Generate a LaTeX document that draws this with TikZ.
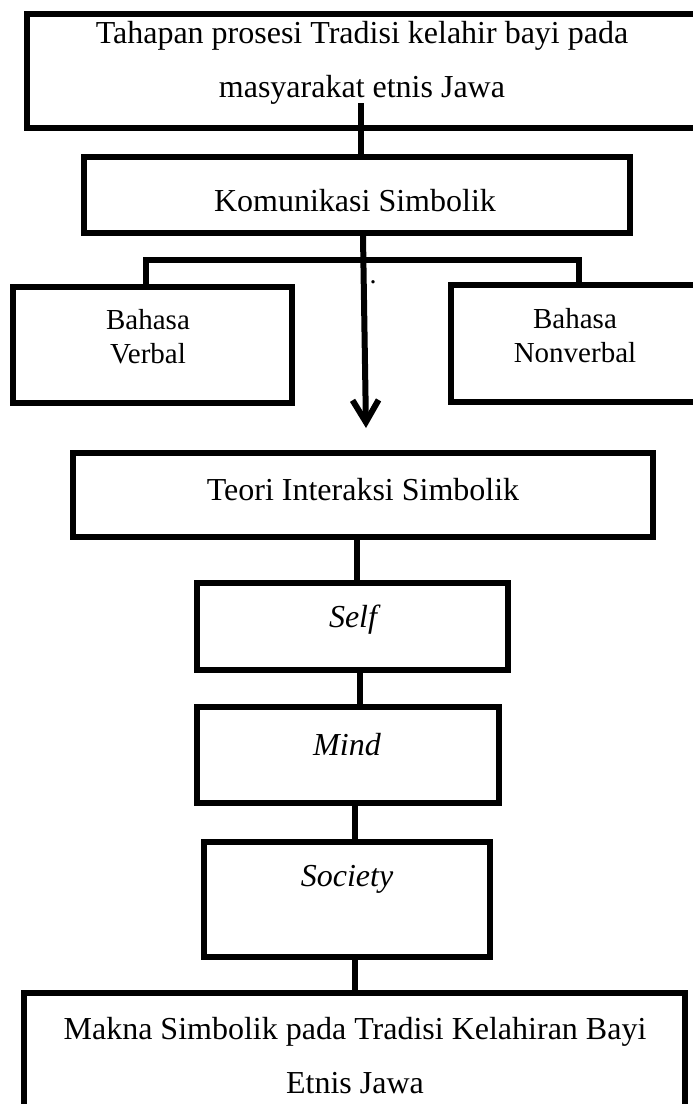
\documentclass[tikz,border=0pt]{standalone}
\usepackage{fontspec}
\setmainfont{Liberation Serif}
\usetikzlibrary{arrows.meta,calc}
\tikzset{
  box/.style={draw, line width=6pt, inner sep=0pt, rectangle},
  txt/.style={inner sep=0pt, align=center, font=\fontsize{32}{54}\selectfont},
  smalltxt/.style={inner sep=0pt, align=center, font=\fontsize{29}{34}\selectfont},
  conn/.style={line width=6pt},
  arrowconn/.style={line width=6pt, -{Straight Barb[length=22pt,width=26pt]}},
}
\begin{document}
\begin{tikzpicture}[x=1pt,y=-1pt]
\clip (0,0) rectangle (693,1104);
% boxes
\node[box, minimum width=673pt, minimum height=114pt] (b1) at (363.5,71) {};
\node[box, minimum width=546pt, minimum height=76pt] (kom) at (357,195) {};
\node[box, minimum width=279pt, minimum height=116pt] (verbal) at (152.5,345) {};
\node[box, minimum width=249pt, minimum height=117pt] (nonverbal) at (575.5,343.5) {};
\node[box, minimum width=580pt, minimum height=84pt] (teori) at (363,495) {};
\node[box, minimum width=311pt, minimum height=87pt] (self) at (352.5,626.5) {};
\node[box, minimum width=302pt, minimum height=96pt] (mind) at (348,755) {};
\node[box, minimum width=286pt, minimum height=115pt] (society) at (347,899.5) {};
\node[box, minimum width=661pt, minimum height=122pt] (makna) at (354.5,1054) {};
% texts
\node[txt] (t1) at (362,63) {Tahapan prosesi Tradisi kelahir bayi pada\\masyarakat etnis Jawa};
\node[txt] (tkom) at (355,201) {Komunikasi Simbolik};
\node[smalltxt] (tverbal) at (148,337) {Bahasa\\Verbal};
\node[smalltxt] (tnonverbal) at (575,336) {Bahasa\\Nonverbal};
\node[txt] (tteori) at (363,490) {Teori Interaksi Simbolik};
\node[txt] (tself) at (353,620) {\itshape Self};
\node[txt] (tmind) at (347,745) {\itshape Mind};
\node[txt] (tsociety) at (347,879) {\itshape Society};
\node[txt] (tmakna) at (355,1056) {Makna Simbolik pada Tradisi Kelahiran Bayi\\Etnis Jawa};
\node[inner sep=0pt, font=\fontsize{28}{28}\selectfont] (dot) at (373,282) {.};
% connectors
\coordinate (s1) at (361,103);
\draw[conn] (s1) -- (s1 |- kom.north);
\coordinate (tip) at (366,428);
\draw[arrowconn] ([xshift=6pt]kom.south) -- (tip);
\coordinate (bl) at (146,260);
\coordinate (br) at (579,260);
\draw[conn] (bl |- verbal.north) -- (bl) -- (br) -- (br |- nonverbal.north);
\draw[conn] ([xshift=-6pt]teori.south) -- ([xshift=4.5pt]self.north);
\draw[conn] ([xshift=7.5pt]self.south) -- ([xshift=12pt]mind.north);
\draw[conn] ([xshift=7pt]mind.south) -- ([xshift=8pt]society.north);
\draw[conn] ([xshift=8pt]society.south) -- ([xshift=0.5pt]makna.north);
\end{tikzpicture}
\end{document}
